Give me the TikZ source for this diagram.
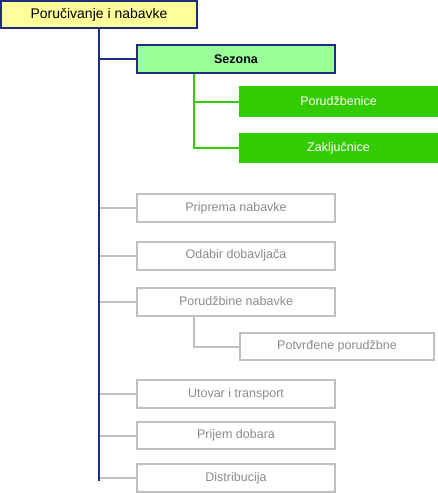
\documentclass[tikz,border=0pt]{standalone}
\usepackage{fontspec}
\setmainfont{Liberation Sans}
\usetikzlibrary{calc}
\definecolor{navy}{RGB}{31,45,125}
\definecolor{lgray}{RGB}{192,192,192}
\definecolor{tgray}{RGB}{140,140,140}
\definecolor{lyellow}{RGB}{255,255,153}
\definecolor{lgreen}{RGB}{153,255,153}
\definecolor{dgreen}{RGB}{51,204,0}
\tikzset{
  base/.style={rectangle, inner sep=0pt, outer sep=0pt, align=center},
  rootbox/.style={base, draw=navy, line width=2pt, fill=lyellow, minimum width=196pt, minimum height=27pt, font=\fontsize{14}{16}\selectfont},
  sezbox/.style={base, draw=navy, line width=2pt, fill=lgreen, minimum width=198pt, minimum height=28pt, font=\fontsize{12.5}{15}\selectfont\bfseries},
  greenbox/.style={base, fill=dgreen, text=white, minimum width=199pt, minimum height=31pt, font=\fontsize{12.5}{15}\selectfont},
  graybox/.style={base, draw=lgray, line width=2pt, fill=white, text=tgray, minimum width=198pt, minimum height=28pt, font=\fontsize{12.5}{15}\selectfont},
  navyline/.style={draw=navy, line width=2pt},
  greenline/.style={draw=dgreen, line width=2pt},
  grayline/.style={draw=lgray, line width=2pt}
}
\begin{document}
\begin{tikzpicture}[x=1pt,y=-1pt]
\useasboundingbox (0,0) rectangle (438,493);
% connectors first
\coordinate (trunkTop) at (99,28);
\coordinate (trunkBot) at (99,481);
\node[rootbox] (root) at (99,14.5) {Poručivanje i nabavke};
\node[sezbox] (sez) at (236,59) {Sezona};
\node[greenbox] (por) at (338.5,101.5) {Porudžbenice};
\node[greenbox, minimum height=30pt] (zak) at (338.5,148) {Zaključnice};
\node[graybox] (pri) at (236,208) {Priprema nabavke};
\node[graybox] (oda) at (236,255.5) {Odabir dobavljača};
\node[graybox] (porn) at (236,301.5) {Porudžbine nabavke};
\node[graybox, minimum width=194pt, minimum height=27pt] (pot) at (337,346.5) {Potvrđene porudžbne};
\node[graybox] (uto) at (236,394) {Utovar i transport};
\node[graybox, minimum height=27pt] (prij) at (236,435.5) {Prijem dobara};
\node[graybox] (dist) at (236,478) {Distribucija};
\begin{scope}[on background layer/.style={}]
\end{scope}
% gray branches
\foreach \n in {pri,oda,porn,uto,prij,dist}{
  \draw[grayline] (root.south |- \n.west) -- (\n.west);
}
\coordinate (gs) at ($(porn.south west)+(57,0)$);
\draw[grayline] (gs) |- (pot.west);
% green
\coordinate (gz) at ($(sez.south west)+(57,0)$);
\draw[greenline] (gz) |- (por.west);
\draw[greenline] (gz) |- (zak.west);
% navy
\draw[navyline] (root.south) -- (trunkBot);
\draw[navyline] (root.south |- sez.west) -- (sez.west);
% redraw boxes over lines
\node[rootbox] at (root) {Poručivanje i nabavke};
\node[sezbox] at (sez) {Sezona};
\end{tikzpicture}
\end{document}
